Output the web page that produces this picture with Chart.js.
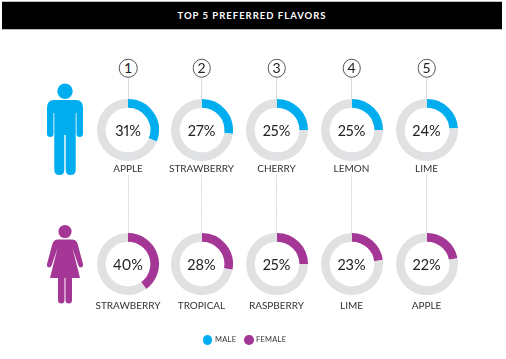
<!DOCTYPE html>
<html><head><meta charset="utf-8">
<script src="https://cdn.jsdelivr.net/npm/chart.js@4"></script>
<style>
html,body{margin:0;padding:0;background:#fff;width:506px;height:359px;overflow:hidden}
body{position:relative;font-family:Lato,"Open Sans",sans-serif;color:#2b2b2d}
.abs{position:absolute}
#hdr{left:2px;top:1px;width:500px;height:29px;background:#000;border-top:1px solid #bbb;border-bottom:1px solid #bbb;box-sizing:border-box;color:#fff;font-weight:700;font-size:9.5px;letter-spacing:1px;line-height:27px;text-align:center;}
.lbl{transform:translateX(-50%);white-space:nowrap;font-size:10px;letter-spacing:0;line-height:12px;color:#333}
.pct{transform:translate(-50%,-50%);white-space:nowrap;font-size:14.5px;font-weight:400;line-height:16px;color:#222;font-variant-numeric:proportional-nums}
.rank{transform:translate(-50%,-50%);width:16.5px;height:16.5px;border:1px solid #555;border-radius:50%;background:#fff;text-align:center;font-size:14px;font-weight:400;line-height:16.5px;color:#222}
.vline{width:1px;background:#dcdde0}
.dash{width:1px;background:repeating-linear-gradient(#d8d9dc 0 2px,#f2f2f3 2px 3px)}
canvas{position:absolute;display:block}
.dot{width:9.5px;height:9.5px;border-radius:50%}
.leg{font-size:7.5px;letter-spacing:.25px;line-height:10px;color:#333}
</style></head><body>
<div id="hdr" class="abs">TOP 5 PREFERRED FLAVORS</div>
<svg class="abs" style="left:0;top:0" width="506" height="359">
<g fill="#00aeef">
<circle cx="65" cy="91.3" r="7.7"/>
<path d="M54 100H76Q83 100 83 107.5V133.7Q83 137 79.8 137Q76.5 137 76.5 133.7V113H75.7V170Q75.7 175 70.4 175Q65.7 175 65.7 170V135H64.3V170Q64.3 175 59.6 175Q54.3 175 54.3 170V113H53.5V133.7Q53.5 137 50.2 137Q47 137 47 133.7V107.5Q47 100 54 100Z"/>
</g>
<g fill="#a43795">
<circle cx="65" cy="231.5" r="6.6"/>
<path d="M58 239.5H72Q76 239.5 77.5 243.5L83 264Q83.5 267 81 267.5Q79 267.5 78.2 265L72.5 248L80 278H72V300Q72 303.5 68.8 303.5Q65.5 303.5 65.5 300V278H64.5V300Q64.5 303.5 61.2 303.5Q58 303.5 58 300V278H50L57.5 248L51.8 265Q51 267.5 49 267.5Q46.5 267 47 264L52.5 243.5Q54 239.5 58 239.5Z"/>
</g>
</svg>
<script>
const ranks = ['1','2','3','4','5'];
const maleFlavors = ['APPLE','STRAWBERRY','CHERRY','LEMON','LIME'];
const maleValues = [31,27,25,25,24];
const femaleFlavors = ['STRAWBERRY','TROPICAL','RASPBERRY','LIME','APPLE'];
const femaleValues = [40,28,25,23,22];

const centers = [128,201.5,276.5,351.5,426.5];
const topY = 129.5, botY = 264, R = 30.5, r = 22;
const MALE = '#00aeef', FEMALE = '#a43795', TRACK = '#e0e1e3';

function el(cls, x, y, text, extra){
  const d = document.createElement('div');
  d.className = 'abs ' + cls;
  d.style.left = x + 'px'; d.style.top = y + 'px';
  if (text != null) d.textContent = text;
  if (extra) Object.assign(d.style, extra);
  document.body.appendChild(d);
  return d;
}
function donut(cx, cy, value, color){
  const c = document.createElement('canvas');
  const size = 2 * R;
  c.width = size + 1; c.height = size + 1;
  c.style.width = (size + 1) + 'px'; c.style.height = (size + 1) + 'px';
  c.style.left = (cx - (size + 1) / 2) + 'px';
  c.style.top = (cy - (size + 1) / 2) + 'px';
  document.body.appendChild(c);
  new Chart(c, {
    type: 'doughnut',
    data: { datasets: [{ data: [value, 100 - value], backgroundColor: [color, TRACK], borderWidth: 0 }] },
    options: {
      responsive: false, animation: false, cutout: (r / R * 100) + '%',
      plugins: { legend: { display: false }, tooltip: { enabled: false } },
      events: []
    }
  });
}
centers.forEach((cx, i) => {
  const lx = Math.floor(cx);
  el('vline', lx, 76, null, { height: '24px' });
  el('dash', lx, 175, null, { height: '59px' });
  el('rank', cx, 68, ranks[i]);
  donut(cx, topY, maleValues[i], MALE);
  el('pct', cx, topY + 1, maleValues[i] + '%');
  el('lbl', cx, 161.5, maleFlavors[i]);
  donut(cx, botY, femaleValues[i], FEMALE);
  el('pct', cx, botY + 1, femaleValues[i] + '%');
  el('lbl', cx, 299, femaleFlavors[i]);
});
el('dot', 202.5, 335.2, null, { background: MALE });
el('leg', 215, 335, 'MALE');
el('dot', 244, 335.2, null, { background: FEMALE });
el('leg', 256, 335, 'FEMALE');
</script>
</body></html>
